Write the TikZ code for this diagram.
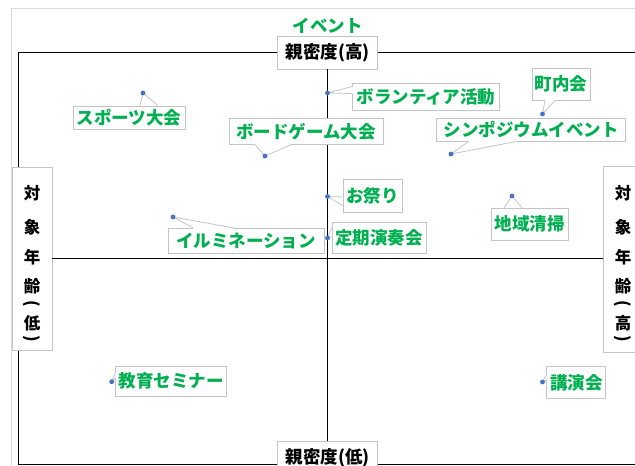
\documentclass[tikz,border=0pt]{standalone}
\usepackage{fontspec}
\newfontfamily\jp{Noto Sans CJK JP}
\definecolor{lblgreen}{HTML}{00B050}
\definecolor{boxgrey}{HTML}{C4C4C4}
\definecolor{framegrey}{HTML}{DADADA}
\definecolor{dotblue}{HTML}{4472C4}
\newcommand\mycallout[3]{%
  \draw[white, line width=1.4pt] (#2) -- (#3);
  \draw[boxgrey, line width=0.8pt] (#2) -- (#1.center) -- (#3);
  \node[evdot] at (#1) {};}
\begin{document}
\begin{tikzpicture}[x=1pt,y=-1pt,
  lbl/.style={draw=boxgrey, line width=0.8pt, fill=white, inner sep=0pt,
    font=\jp\bfseries\fontsize{17.5}{20}\selectfont, text=lblgreen},
  axislbl/.style={lbl, text=black},
  vchar/.style={inner sep=0pt, font=\jp\bfseries\fontsize{16.5}{20}\selectfont, text=black},
  evdot/.style={circle, fill=dotblue, inner sep=0pt, minimum size=4.8pt},
  axisline/.style={line width=1.9pt, black}]
\useasboundingbox (0,0) rectangle (635,466);
\clip (0,0) rectangle (635,466);
% outer light frame
\draw[framegrey, line width=1pt] (11,470) -- (11,8) -- (640,8);
% chart frame
\draw[axisline] (18.5,52.5) rectangle (680,464.5);
% axis labels
\node[axislbl, minimum width=100pt, minimum height=33pt] (top) at (327.5,52.5) {親密度(高)};
\node[axislbl, minimum width=100pt, minimum height=33pt] (bot) at (327.5,457.5) {親密度(低)};
\node[draw=boxgrey, line width=0.8pt, fill=white, minimum width=40pt, minimum height=183pt] (lft) at (32,258.5) {};
\node[draw=boxgrey, line width=0.8pt, fill=white, minimum width=40pt, minimum height=186pt] (rgt) at (623,259.5) {};
% axes
\draw[axisline] (top.south) -- (bot.north);
\draw[axisline] (lft.east |- 0,258.5) -- (rgt.west |- 0,258.5);
% vertical texts
\foreach \x/\s in {32/l,623/r}{
  \node[vchar] (\s1) at (\x,193) {対};
  \node[vchar] (\s2) at (\x,227) {象};
  \node[vchar] (\s3) at (\x,257) {年};
  \node[vchar] (\s4) at (\x,286) {齢};
  \node[vchar, rotate=-90] (\s5) at (\x,304) {(};
  \node[vchar, rotate=-90] (\s7) at (\x,339) {)};
}
\node[vchar] (l6) at (32,323) {低};
\node[vchar] (r6) at (623,323) {高};
% title
\node[font=\jp\bfseries\fontsize{17.5}{20}\selectfont, text=lblgreen] (title) at (327.5,26) {イベント};
% events
\node[lbl, minimum width=147pt, minimum height=27pt] (vol) at (426,96.5) {ボランティア活動};
\node[lbl, minimum width=58pt, minimum height=32pt] (cho) at (561,84) {町内会};
\node[lbl, minimum width=112pt, minimum height=23pt] (spo) at (129,117.5) {スポーツ大会};
\node[lbl, minimum width=154pt, minimum height=26pt] (brd) at (306,131.3) {ボードゲーム大会};
\node[lbl, minimum width=189pt, minimum height=23pt] (sym) at (531,129.6) {シンポジウムイベント};
\node[lbl, minimum width=59pt, minimum height=33pt] (mat) at (372.5,195.5) {お祭り};
\node[lbl, minimum width=156pt, minimum height=25pt] (ill) at (246,240.7) {イルミネーション};
\node[lbl, minimum width=94pt, minimum height=31pt] (tei) at (379,237.5) {定期演奏会};
\node[lbl, minimum width=77pt, minimum height=32pt] (chi) at (529.5,224) {地域清掃};
\node[lbl, minimum width=111pt, minimum height=30pt] (kyo) at (171.3,381) {教育セミナー};
\node[lbl, minimum width=59pt, minimum height=32pt] (kou) at (576.3,382.7) {講演会};
% tips
\coordinate (tvol) at (327.5,93);
\coordinate (tcho) at (542.5,114);
\coordinate (tspo) at (143,93);
\coordinate (tbrd) at (265,156);
\coordinate (tsym) at (451,154);
\coordinate (tmat) at (327.5,196.5);
\coordinate (till) at (173,217);
\coordinate (ttei) at (327.5,238);
\coordinate (tchi) at (512,196);
\coordinate (tkyo) at (111.7,381.7);
\coordinate (tkou) at (542.5,382);
% callouts
\mycallout{tvol}{[yshift=10pt]vol.west}{[yshift=3pt]vol.west}
\mycallout{tcho}{[xshift=-16pt]cho.south}{[xshift=-6pt]cho.south}
\mycallout{tspo}{[xshift=11pt]spo.north}{[xshift=29pt]spo.north}
\mycallout{tbrd}{[xshift=-51pt]brd.south}{[xshift=-15pt]brd.south}
\mycallout{tsym}{[xshift=-62.5pt]sym.south}{[xshift=-14.5pt]sym.south}
\mycallout{tmat}{[yshift=-1.5pt]mat.west}{[yshift=-10pt]mat.west}
\mycallout{till}{[xshift=-53pt]ill.north}{[xshift=-13pt]ill.north}
\mycallout{ttei}{[yshift=9.5pt]tei.west}{[yshift=1pt]tei.west}
\mycallout{tchi}{[xshift=-25.5pt]chi.north}{[xshift=-7.5pt]chi.north}
\mycallout{tkyo}{[yshift=8pt]kyo.west}{[yshift=3pt]kyo.west}
\mycallout{tkou}{[yshift=8pt]kou.west}{[yshift=3pt]kou.west}
\end{tikzpicture}
\end{document}
